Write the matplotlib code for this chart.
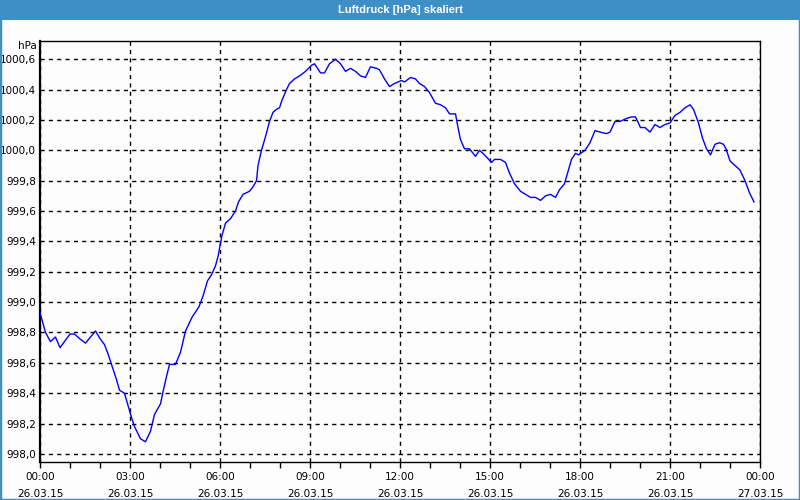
import matplotlib
matplotlib.use("Agg")
import matplotlib.pyplot as plt
from matplotlib.patches import Rectangle
from matplotlib.ticker import FuncFormatter, MultipleLocator

# Messzeitpunkte in Minuten ab 26.03.15 00:00
minutes = [0, 11, 21, 31, 40, 51, 60, 69, 79, 91, 101, 111, 120, 129, 136, 144,
           153, 159, 169, 176, 183, 189, 201, 211, 221, 229, 241, 246, 253, 259,
           271, 281, 291, 304, 318, 326, 335, 343, 351, 356, 364, 371, 381, 391,
           397, 406, 419, 426, 433, 436, 443, 451, 459, 466, 473, 479, 484, 493,
           499, 509, 519, 531, 543, 549, 561, 569, 579, 591, 601, 611, 621, 631,
           641, 651, 661, 673, 679, 689, 699, 709, 723, 729, 741, 751, 759, 769,
           779, 791, 801, 811, 819, 831, 836, 841, 849, 859, 871, 879, 889, 903,
           909, 921, 931, 939, 949, 961, 971, 981, 991, 1001, 1011, 1021, 1031,
           1039, 1049, 1056, 1063, 1071, 1077, 1090, 1100, 1110, 1120, 1133, 1140,
           1150, 1160, 1173, 1183, 1191, 1201, 1210, 1220, 1230, 1240, 1250, 1260,
           1270, 1280, 1290, 1300, 1307, 1317, 1325, 1333, 1341, 1350, 1359, 1367,
           1372, 1380, 1390, 1400, 1410, 1419, 1428]

pressure = [998.93, 998.80, 998.74, 998.77, 998.70, 998.75, 998.79, 998.79,
            998.76, 998.73, 998.77, 998.81, 998.76, 998.72, 998.66, 998.58,
            998.49, 998.42, 998.40, 998.32, 998.24, 998.18, 998.10, 998.08,
            998.15, 998.26, 998.33, 998.41, 998.51, 998.59, 998.59, 998.67,
            998.81, 998.90, 998.97, 999.04, 999.14, 999.18, 999.24, 999.30,
            999.44, 999.52, 999.55, 999.60, 999.66, 999.71, 999.73, 999.76,
            999.80, 999.90, 1000.00, 1000.09, 1000.19, 1000.25, 1000.27, 1000.28,
            1000.33, 1000.40, 1000.44, 1000.47, 1000.49, 1000.52, 1000.56, 1000.57,
            1000.51, 1000.51, 1000.57, 1000.60, 1000.57, 1000.52, 1000.54, 1000.52,
            1000.49, 1000.48, 1000.55, 1000.54, 1000.53, 1000.47, 1000.42, 1000.44,
            1000.46, 1000.45, 1000.48, 1000.47, 1000.44, 1000.42, 1000.38, 1000.31,
            1000.30, 1000.28, 1000.24, 1000.24, 1000.15, 1000.07, 1000.01, 1000.01,
            999.96, 1000.00, 999.97, 999.92, 999.94, 999.94, 999.92, 999.85,
            999.78, 999.73, 999.71, 999.69, 999.69, 999.67, 999.70, 999.71,
            999.69, 999.74, 999.78, 999.86, 999.94, 999.98, 999.97, 1000.00,
            1000.05, 1000.13, 1000.12, 1000.11, 1000.12, 1000.19, 1000.19, 1000.21,
            1000.22, 1000.22, 1000.15, 1000.15, 1000.12, 1000.17, 1000.15, 1000.17,
            1000.18, 1000.23, 1000.25, 1000.28, 1000.30, 1000.27, 1000.18, 1000.08,
            1000.01, 999.97, 1000.04, 1000.05, 1000.04, 1000.01, 999.93, 999.90,
            999.87, 999.80, 999.72, 999.66]

tick_hours = [0, 3, 6, 9, 12, 15, 18, 21, 24]
tick_labels = ["00:00\n26.03.15", "03:00\n26.03.15", "06:00\n26.03.15",
               "09:00\n26.03.15", "12:00\n26.03.15", "15:00\n26.03.15",
               "18:00\n26.03.15", "21:00\n26.03.15", "00:00\n27.03.15"]

title = "Luftdruck [hPa] skaliert"
frame_blue = "#3d8fc6"

fig = plt.figure(figsize=(8, 5), dpi=100, facecolor="#fdfdfd")
ax = fig.add_axes([40 / 800, 38 / 500, 720 / 800, 421 / 500])
ax.set_facecolor("#fdfdfd")

hours = [m / 60 for m in minutes]
ax.plot(hours, pressure, color="#0000ff", lw=1.0, zorder=3)

ax.set_xlim(0, 24)
ax.set_ylim(997.947, 1000.72)
ax.set_xticks(tick_hours)
ax.set_xticklabels(tick_labels, fontsize=7.5, linespacing=1.9)
ax.xaxis.set_minor_locator(MultipleLocator(1))
ax.yaxis.set_major_locator(MultipleLocator(0.2))
ax.yaxis.set_major_formatter(FuncFormatter(lambda v, p: f"{v:.1f}".replace(".", ",")))
ax.tick_params(axis="x", which="both", direction="out", length=4, width=1, pad=3)
ax.tick_params(axis="y", length=0, pad=3, labelsize=7.5)

ax.grid(True, which="major", color="black", linestyle=(0, (3, 3)), lw=1)
for s in ax.spines.values():
    s.set_color("black")
    s.set_linewidth(1)
ax.spines["left"].set_linewidth(1.6)

fig.text(37 / 800, 1 - 46 / 500, "hPa", ha="right", va="center", fontsize=7.5)

# Titelleiste und Rahmen
fig.patches.append(Rectangle((0, 1 - 20 / 500), 1, 20 / 500, transform=fig.transFigure,
                             facecolor=frame_blue, edgecolor="none", zorder=0))
fig.patches.append(Rectangle((0, 0), 1, 1, transform=fig.transFigure, facecolor="none",
                             edgecolor=frame_blue, lw=2.5, zorder=0))
fig.text(0.5, 1 - 10 / 500, title, ha="center", va="center", color="white",
         fontsize=8, fontweight="bold", family=["Liberation Sans", "DejaVu Sans"])

fig.savefig("out.png", dpi=100, facecolor=fig.get_facecolor())
